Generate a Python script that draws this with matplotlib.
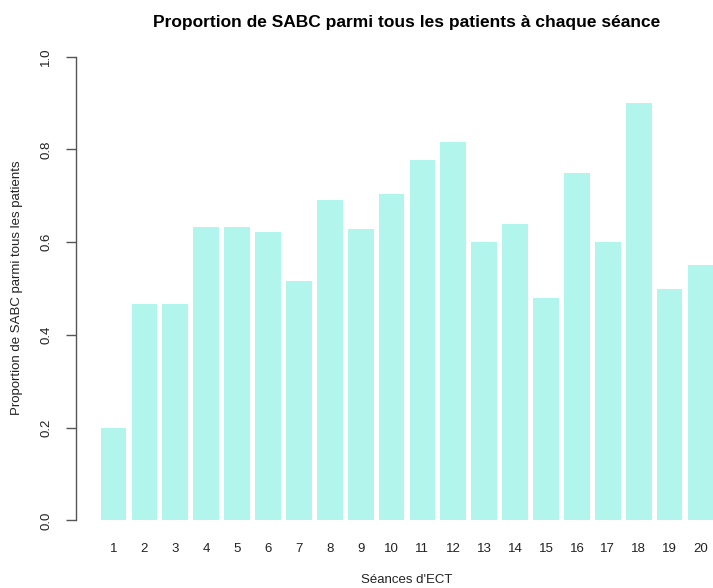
import matplotlib
matplotlib.use("Agg")
import matplotlib.pyplot as plt

seances = list(range(1, 21))
labels = [str(s) for s in seances]
proportions = [0.200, 0.467, 0.467, 0.633, 0.633, 0.622, 0.516, 0.690, 0.628, 0.704,
               0.777, 0.816, 0.600, 0.640, 0.480, 0.750, 0.600, 0.900, 0.500, 0.550]

plt.rcParams['font.family'] = ['Liberation Sans', 'DejaVu Sans']

W, H = 713, 588
fig = plt.figure(figsize=(W / 100, H / 100), dpi=100)
left_px, right_px = 76, 713
top_px, bot_px = 38, 539
ax = fig.add_axes([left_px / W, 1 - bot_px / H, (right_px - left_px) / W, (bot_px - top_px) / H])

ax.bar(seances, proportions, width=1 / 1.2, color='#B2F5EC', edgecolor='none')
ax.set_xlim(-0.214, 20.405)
ax.set_ylim(-0.04, 1.04)

for s in ['top', 'right', 'bottom']:
    ax.spines[s].set_visible(False)
ax.spines['left'].set_bounds(0, 1)
ax.spines['left'].set_color('#555555')
ax.spines['left'].set_linewidth(1.0)

ax.set_yticks([0.0, 0.2, 0.4, 0.6, 0.8, 1.0])
ax.set_yticklabels(['0.0', '0.2', '0.4', '0.6', '0.8', '1.0'], rotation=90, va='center', fontsize=9.5, color='#222222')
ax.tick_params(axis='y', length=7, width=1.0, color='#555555', pad=10)

ax.set_xticks(seances)
ax.set_xticklabels(labels, fontsize=9.5, color='#222222')
ax.tick_params(axis='x', length=0, pad=3)

center_x = 407 / W
fig.text(center_x, 1 - 22 / H, "Proportion de SABC parmi tous les patients à chaque séance",
         ha='center', va='center', fontsize=12.5, fontweight='bold')
fig.text(center_x, 1 - 580 / H, "Séances d'ECT", ha='center', va='center', fontsize=9.5, color='#222222')
fig.text(17 / W, 1 - 288 / H, "Proportion de SABC parmi tous les patients", ha='center', va='center',
         rotation=90, fontsize=9.5, color='#222222')

fig.savefig('out.png', dpi=100)
